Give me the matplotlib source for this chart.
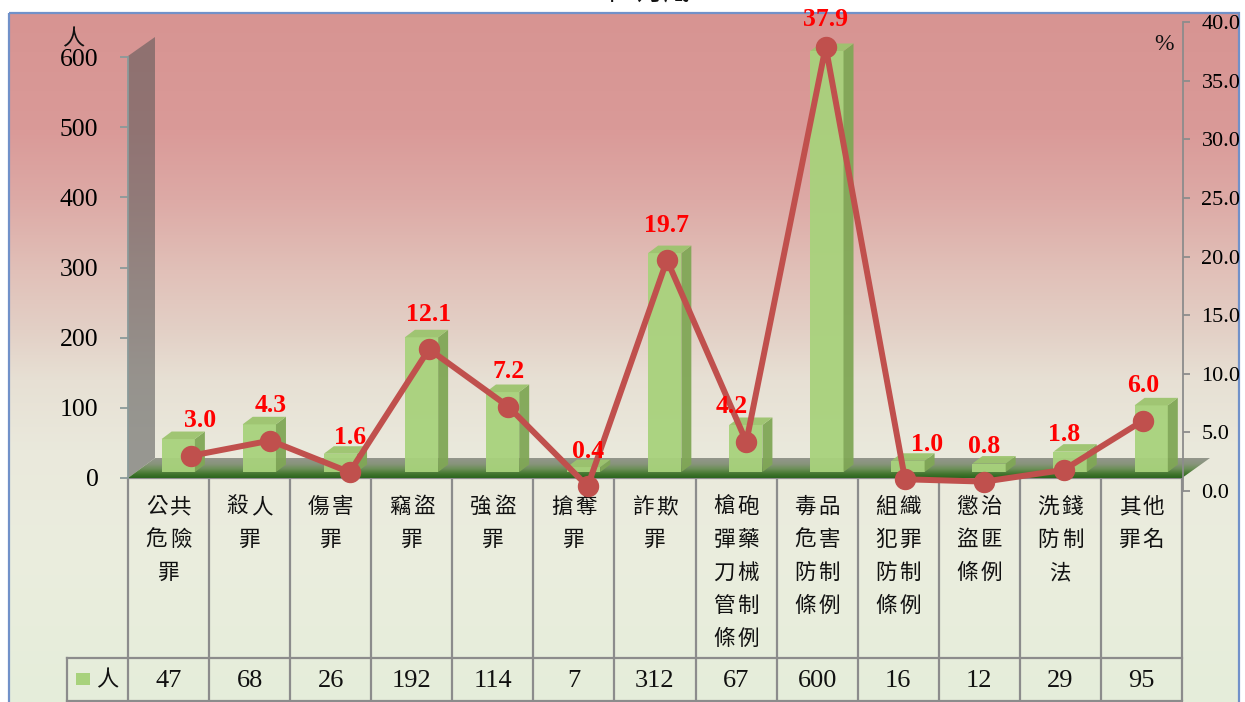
import numpy as np
import matplotlib
matplotlib.use("Agg")
import matplotlib.pyplot as plt
from matplotlib.patches import Polygon, Rectangle
from matplotlib.ticker import FuncFormatter

# ---------------- data ----------------
title = "113年5月底"
series_name = "人"
categories = ["公共危險罪", "殺人罪", "傷害罪", "竊盜罪", "強盜罪", "搶奪罪", "詐欺罪",
              "槍砲彈藥刀械管制條例", "毒品危害防制條例", "組織犯罪防制條例",
              "懲治盜匪條例", "洗錢防制法", "其他罪名"]
persons = [47, 68, 26, 192, 114, 7, 312, 67, 600, 16, 12, 29, 95]
percent = [3.0, 4.3, 1.6, 12.1, 7.2, 0.4, 19.7, 4.2, 37.9, 1.0, 0.8, 1.8, 6.0]
left_ticks = [0, 100, 200, 300, 400, 500, 600]
right_ticks = [0, 5, 10, 15, 20, 25, 30, 35, 40]

# ---------------- style ----------------
W, H = 1245, 702
SERIF = ["Liberation Serif", "Noto Sans CJK TC"]
CJK = ["Noto Sans CJK TC", "DejaVu Sans"]
LINE_C = "#C0504D"
BAR_FRONT = "#A8D27C"
BAR_SIDE = "#80A756"
BAR_TOP = "#9CC46E"
GRID_C = "#8C8C8C"
label_dx = [9, 0, 0, 0, 0, 0, 0, -15, 0, 22, 0, 0, 0]   # px nudges of value labels

fig = plt.figure(figsize=(W / 100, H / 100), dpi=100)
fig.patch.set_facecolor("white")


def fa(l, t, r, b):
    return [l / W, 1 - b / H, (r - l) / W, (b - t) / H]


# ---------- background / decoration axes in pixel coords ----------
ax_bg = fig.add_axes([0, 0, 1, 1], zorder=0)
ax_bg.set_xlim(0, W)
ax_bg.set_ylim(H, 0)
ax_bg.axis("off")

stops_y = [13, 130, 200, 270, 330, 380, 450, 550, 702]
stops_c = [(215, 148, 146), (218, 154, 152), (221, 170, 166), (225, 192, 184),
           (227, 208, 198), (231, 224, 212), (234, 233, 220), (235, 237, 222),
           (229, 238, 218)]
ys = np.arange(13, 703)
grad = np.stack([np.interp(ys, stops_y, [c[k] for c in stops_c]) for k in range(3)], axis=-1) / 255
ax_bg.imshow(grad[:, None, :], extent=(9, 1239, 702, 13), aspect="auto", zorder=0,
             interpolation="bilinear")
ax_bg.add_patch(Rectangle((9, 13), 1230, 700, fill=False, ec="#7191C9", lw=1.6, zorder=1))

# left wall
ax_bg.add_patch(Polygon([(128, 56), (155, 37), (155, 458), (128, 478)], closed=True,
                        fc=(0.33, 0.33, 0.33), alpha=0.55, ec="none", zorder=2))
# floor with gradient
floor = Polygon([(128, 478), (1182, 478), (1210, 458), (155, 458)], closed=True,
                fc="none", ec="none")
ax_bg.add_patch(floor)
fy = np.linspace(0, 1, 40)
fstops = [0, 0.3, 0.55, 0.8, 1]
fc = np.stack([np.interp(fy, fstops, [0.58, 0.53, 0.42, 0.26, 0.17]),
               np.interp(fy, fstops, [0.59, 0.58, 0.56, 0.46, 0.40]),
               np.interp(fy, fstops, [0.55, 0.48, 0.34, 0.18, 0.12])], axis=-1)
im = ax_bg.imshow(fc[:, None, :], extent=(128, 1210, 478, 458), aspect="auto", zorder=3,
                  interpolation="bilinear")
im.set_clip_path(floor)

# ---------- bars axes ----------
PXY = 421 / 600.0
ax_bar = fig.add_axes(fa(128, 472 - 650 * PXY, 1182, 472), zorder=1)
ax_bar.set_xlim(0, len(categories))
ax_bar.set_ylim(0, 650)
ax_bar.axis("off")
ax_bar.patch.set_visible(False)
PXX = 1054 / len(categories)
ddx, ddy = 10 / PXX, 7.5 / PXY
bw = 0.41
for i, v in enumerate(persons):
    l = i + 0.5 + 0.12 - bw / 2
    r = l + bw
    ax_bar.add_patch(Rectangle((l, 0), bw, v, fc=BAR_FRONT, ec="none", alpha=0.95))
    ax_bar.add_patch(Polygon([(r, 0), (r + ddx, ddy), (r + ddx, v + ddy), (r, v)],
                             fc=BAR_SIDE, ec="none", alpha=0.95))
    ax_bar.add_patch(Polygon([(l, v), (r, v), (r + ddx, v + ddy), (l + ddx, v + ddy)],
                             fc=BAR_TOP, ec="none", alpha=0.95))

# ---------- left tick axis ----------
ax_tick = fig.add_axes(fa(128, 57, 140, 478), zorder=2)
ax_tick.set_ylim(0, 600)
ax_tick.patch.set_visible(False)
for s in ["top", "right", "bottom"]:
    ax_tick.spines[s].set_visible(False)
ax_tick.spines["left"].set_color("#8A9A9A")
ax_tick.spines["left"].set_linewidth(1.3)
ax_tick.set_xticks([])
ax_tick.set_yticks(left_ticks)
ax_tick.tick_params(axis="y", direction="out", length=5.8, width=1.3, color="#8A9A9A",
                    pad=15.5, labelsize=18.5)
for t in ax_tick.get_yticklabels():
    t.set_family(SERIF)

# ---------- line axes ----------
ax_line = fig.add_axes(fa(151.3, 22, 1182.7, 491), zorder=3)
ax_line.set_xlim(-0.5, len(categories) - 0.5)
ax_line.set_ylim(0, 40)
ax_line.patch.set_visible(False)
for s in ["top", "left", "bottom"]:
    ax_line.spines[s].set_visible(False)
ax_line.spines["right"].set_color("#8C8C8C")
ax_line.spines["right"].set_linewidth(1.3)
ax_line.set_xticks([])
ax_line.yaxis.tick_right()
ax_line.set_yticks(right_ticks)
ax_line.yaxis.set_major_formatter(FuncFormatter(lambda v, p: f"{v:.1f}"))
ax_line.tick_params(axis="y", direction="out", length=5, width=1.3, color="#8C8C8C",
                    pad=8.5, labelsize=16)
for t in ax_line.get_yticklabels():
    t.set_family(SERIF)

xs = np.arange(len(categories))
ax_line.plot(xs, percent, color=LINE_C, lw=4.3, marker="o", ms=14.4, mfc=LINE_C,
             mec=LINE_C, solid_joinstyle="round", clip_on=False, zorder=5)
ppx = (491 - 22) / 40.0
for i, v in enumerate(percent):
    marker_py = 491 - v * ppx
    dy = min(35, marker_py - 20)
    ax_line.annotate(f"{v:.1f}", (i, v), xytext=(label_dx[i], dy), textcoords="offset pixels",
                     ha="center", va="center", color="#FF0000", fontsize=18.5,
                     fontweight="bold", family=SERIF, annotation_clip=False, zorder=6)

# ---------- data table ----------
to_bg = ax_bar.transData + ax_bg.transData.inverted()
colx = [to_bg.transform((k, 0))[0] for k in range(len(categories) + 1)]
TOP, MID, BOT = 478, 658, 701
for x in colx:
    ax_bg.plot([x, x], [TOP, BOT], color=GRID_C, lw=1.6, zorder=4, solid_capstyle="butt")
ax_bg.plot([colx[0], colx[-1]], [TOP, TOP], color=GRID_C, lw=1.6, zorder=2)
ax_bg.plot([67, colx[-1]], [MID, MID], color=GRID_C, lw=1.6, zorder=4)
ax_bg.plot([67, colx[-1]], [BOT, BOT], color=GRID_C, lw=1.6, zorder=4)
ax_bg.plot([67, 67], [MID, BOT], color=GRID_C, lw=1.6, zorder=4)

for i, name in enumerate(categories):
    cx = (colx[i] + colx[i + 1]) / 2
    lines = [name[k:k + 2] for k in range(0, len(name), 2)]
    for j, ln in enumerate(lines):
        n = len(ln)
        for c, ch in enumerate(ln):
            ax_bg.text(cx + (c - (n - 1) / 2) * 24, 507 + 33 * j, ch, ha="center",
                       va="center", fontsize=15.5, family=CJK, color="#111111", zorder=5)
    ax_bg.text(cx, 681, str(persons[i]), ha="center", va="center", fontsize=19,
               family=SERIF, color="#111111", zorder=5)

ax_bg.add_patch(Rectangle((76, 673), 14, 12, fc=BAR_FRONT, ec="none", zorder=5))
ax_bg.text(107, 680, series_name, ha="center", va="center", fontsize=16, family=CJK,
           color="#111111", zorder=5)

# axis titles
ax_bg.text(73, 39, series_name, ha="center", va="center", fontsize=16, family=CJK,
           color="#111111", zorder=5)
ax_bg.text(1164, 45, "%", ha="center", va="center", fontsize=17, family=SERIF,
           color="#111111", zorder=5)

# title (mostly above the visible area, as in the reference)
fig.text(625 / W, 1 - 5 / H, title, ha="center", va="bottom", fontsize=19,
         family=SERIF, color="#111111")

fig.savefig("out.png", dpi=100)
